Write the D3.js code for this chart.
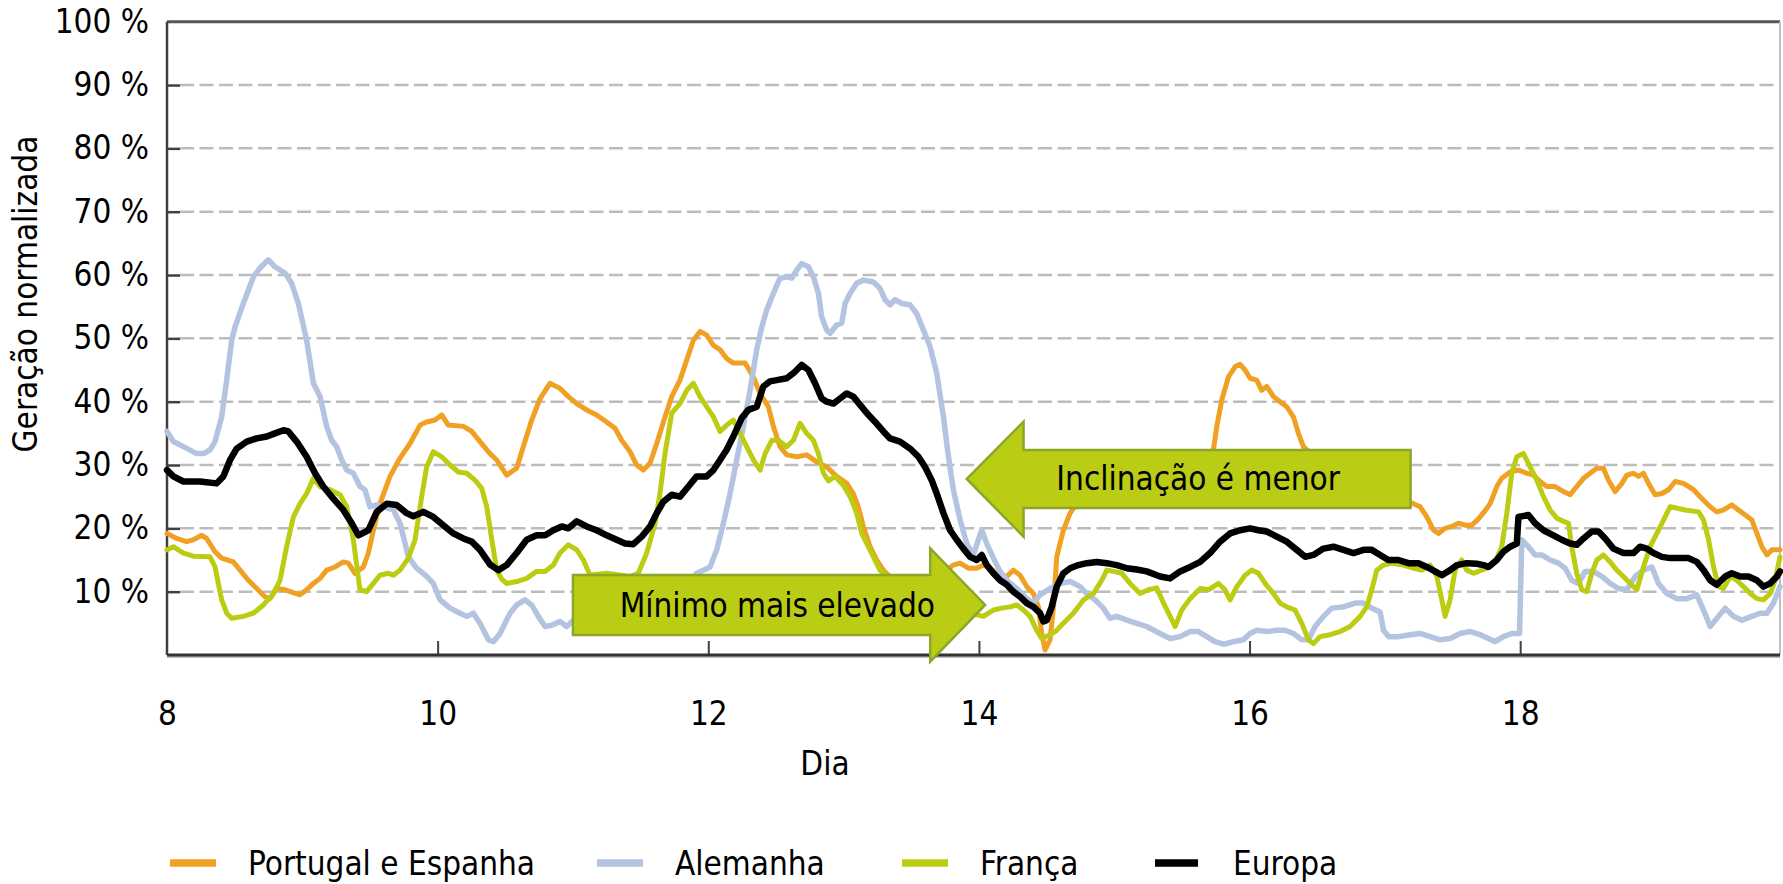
<!DOCTYPE html>
<html>
<head>
    <title>Geração normalizada</title>
    <script src="https://d3js.org/d3.v7.min.js"></script>
    <style>
        body { margin: 0; background: #fff; }
        text { font-family: "DejaVu Sans Condensed", "DejaVu Sans", sans-serif; font-stretch: condensed; }
    </style>
</head>
<body>
    <svg id="chart" width="1783" height="884"></svg>

    <script>
        // ---- data (day of month, % of normalized generation) ----
        const seriesNames = ["Portugal e Espanha", "Alemanha", "França", "Europa"];

        const portugalEspanha = [
            [8.0,19.2],[8.071,18.4],[8.145,17.9],[8.195,18.2],[8.256,18.9],[8.293,18.4],[8.355,16.3],[8.404,15.3],[8.49,14.7],[8.54,13.4],
            [8.601,11.8],[8.663,10.5],[8.724,9.2],[8.761,8.9],[8.811,10.5],[8.872,10.3],[8.983,9.5],[9.032,10.3],[9.082,11.3],[9.131,12.1],
            [9.18,13.4],[9.242,13.9],[9.303,14.7],[9.34,14.5],[9.389,12.9],[9.451,13.9],[9.488,16.1],[9.525,19.7],[9.574,23.9],[9.648,28.2],
            [9.722,31.1],[9.796,33.4],[9.87,36.3],[9.919,36.8],[9.981,37.1],[10.03,37.9],[10.079,36.3],[10.19,36.1],[10.252,35.3],[10.313,33.7],
            [10.387,31.8],[10.436,30.8],[10.51,28.4],[10.584,29.5],[10.633,32.9],[10.695,37.1],[10.757,40.5],[10.83,42.9],[10.904,42.1],[10.966,40.8],
            [11.028,39.7],[11.101,38.7],[11.175,37.9],[11.249,36.8],[11.311,35.8],[11.36,33.9],[11.422,32.1],[11.471,30.0],[11.52,29.2],[11.57,30.3],
            [11.619,33.4],[11.68,37.6],[11.73,40.8],[11.791,43.4],[11.841,46.6],[11.89,49.7],[11.939,51.1],[11.988,50.5],[12.038,48.9],[12.087,48.2],
            [12.136,46.8],[12.185,46.1],[12.272,46.1],[12.333,43.9],[12.383,41.3],[12.444,39.2],[12.481,36.1],[12.53,32.9],[12.58,31.6],[12.654,31.3],
            [12.727,31.6],[12.801,30.5],[12.875,29.7],[12.9,29.2],[12.949,28.2],[13.023,27.1],[13.072,25.5],[13.109,23.4],[13.146,20.3],[13.196,17.1],
            [13.245,15.0],[13.294,13.4],[13.331,12.6],[13.45,11.5],[13.6,11.5],[13.72,12.8],[13.811,14.2],[13.861,14.5],[13.922,13.7],[13.984,13.7],
            [14.033,14.2],[14.082,13.7],[14.144,12.6],[14.206,12.4],[14.255,13.4],[14.304,12.6],[14.353,10.8],[14.403,9.7],[14.44,7.6],[14.464,3.4],
            [14.489,0.8],[14.526,2.4],[14.551,7.6],[14.575,15.5],[14.624,19.7],[14.674,22.4],[14.723,23.9],[14.85,25.5],[15.1,26.0],[15.35,25.0],
            [15.55,27.0],[15.68,30.0],[15.733,32.4],[15.758,36.1],[15.795,40.3],[15.844,43.9],[15.893,45.5],[15.93,45.9],[15.967,45.0],[16.004,43.7],
            [16.053,43.4],[16.09,41.8],[16.127,42.4],[16.177,40.8],[16.226,40.0],[16.275,39.2],[16.324,37.6],[16.361,35.0],[16.398,32.9],[16.55,30.0],
            [16.8,27.0],[17.0,25.5],[17.211,23.9],[17.261,23.4],[17.31,21.8],[17.359,19.7],[17.396,19.2],[17.445,20.0],[17.495,20.3],[17.544,20.8],
            [17.593,20.5],[17.642,20.5],[17.692,21.5],[17.741,22.8],[17.778,23.9],[17.827,26.6],[17.864,27.9],[17.926,28.9],[17.987,29.2],[18.049,28.7],
            [18.098,28.4],[18.147,27.4],[18.197,26.6],[18.258,26.6],[18.32,25.8],[18.369,25.3],[18.418,26.6],[18.468,27.9],[18.517,28.7],[18.566,29.5],
            [18.615,29.5],[18.652,27.6],[18.702,25.8],[18.751,27.1],[18.788,28.4],[18.837,28.7],[18.874,28.2],[18.911,28.7],[18.948,27.1],[18.997,25.3],
            [19.047,25.5],[19.096,26.1],[19.145,27.4],[19.207,27.1],[19.281,26.1],[19.342,24.7],[19.404,23.4],[19.453,22.6],[19.502,22.9],[19.564,23.7],
            [19.613,22.9],[19.663,22.1],[19.712,21.3],[19.749,19.2],[19.786,17.1],[19.823,15.8],[19.86,16.6],[19.92,16.6]
        ];

        const alemanha = [
            [8.0,35.3],[8.047,33.7],[8.121,32.9],[8.219,31.8],[8.269,31.8],[8.318,32.4],[8.355,33.7],[8.404,37.6],[8.441,43.4],[8.478,49.7],
            [8.503,51.8],[8.564,55.5],[8.638,59.7],[8.687,61.1],[8.749,62.4],[8.798,61.3],[8.872,60.3],[8.921,58.7],[8.971,55.5],[9.032,49.7],
            [9.082,42.9],[9.131,40.8],[9.18,36.1],[9.217,33.9],[9.254,32.9],[9.291,30.8],[9.328,29.2],[9.377,28.7],[9.426,26.6],[9.463,26.1],
            [9.5,23.4],[9.55,23.7],[9.673,22.9],[9.722,20.8],[9.784,15.5],[9.845,13.7],[9.919,12.4],[9.968,11.3],[10.018,8.7],[10.092,7.4],
            [10.166,6.6],[10.215,6.1],[10.264,6.6],[10.313,5.0],[10.375,2.4],[10.412,2.1],[10.461,3.4],[10.486,4.5],[10.535,6.6],[10.584,7.9],
            [10.646,8.7],[10.695,7.9],[10.744,6.1],[10.794,4.5],[10.843,4.7],[10.904,5.3],[10.954,4.5],[11.003,5.5],[11.2,5.0],[11.5,6.0],
            [11.75,8.5],[11.914,12.9],[11.964,13.4],[12.013,13.9],[12.062,16.6],[12.112,20.8],[12.161,25.5],[12.21,30.8],[12.259,36.1],[12.309,41.8],
            [12.358,48.2],[12.395,51.8],[12.432,54.5],[12.481,57.1],[12.53,59.5],[12.58,59.7],[12.617,59.5],[12.654,60.8],[12.69,61.8],[12.74,61.3],
            [12.777,59.7],[12.814,57.1],[12.838,53.4],[12.875,51.3],[12.9,50.8],[12.949,52.1],[12.986,52.4],[13.011,55.5],[13.048,57.1],[13.097,58.7],
            [13.146,59.2],[13.22,58.9],[13.269,57.9],[13.306,56.1],[13.343,55.3],[13.38,56.1],[13.43,55.5],[13.491,55.3],[13.54,53.9],[13.59,51.3],
            [13.639,48.7],[13.688,44.5],[13.738,37.6],[13.775,31.3],[13.811,26.1],[13.861,21.3],[13.91,17.6],[13.959,15.8],[13.996,18.2],[14.021,19.7],
            [14.058,17.6],[14.107,15.3],[14.156,13.2],[14.206,11.8],[14.28,10.5],[14.353,8.9],[14.403,8.2],[14.452,9.5],[14.526,10.5],[14.6,11.3],
            [14.674,11.6],[14.748,10.8],[14.797,9.7],[14.859,8.7],[14.92,7.4],[14.969,5.8],[15.019,6.1],[15.093,5.5],[15.166,5.0],[15.24,4.5],
            [15.339,3.4],[15.413,2.6],[15.487,2.9],[15.561,3.7],[15.622,3.7],[15.684,2.9],[15.745,2.1],[15.807,1.7],[15.881,2.1],[15.955,2.4],
            [16.004,3.4],[16.053,3.9],[16.127,3.7],[16.201,3.9],[16.263,3.9],[16.324,3.4],[16.386,2.4],[16.435,2.4],[16.485,4.5],[16.546,6.1],
            [16.608,7.4],[16.694,7.6],[16.78,8.2],[16.842,8.2],[16.903,7.4],[16.965,6.8],[16.99,3.9],[17.027,2.9],[17.1,2.9],[17.187,3.2],
            [17.261,3.4],[17.334,2.9],[17.409,2.4],[17.482,2.6],[17.556,3.4],[17.63,3.7],[17.704,3.2],[17.765,2.6],[17.815,2.1],[17.876,2.9],
            [17.938,3.4],[17.995,3.4],[18.012,18.2],[18.061,17.1],[18.11,15.8],[18.16,15.8],[18.221,15.0],[18.283,14.5],[18.332,13.7],[18.381,11.8],
            [18.431,11.3],[18.48,13.2],[18.542,13.2],[18.603,12.4],[18.665,11.3],[18.726,10.5],[18.788,10.3],[18.85,12.4],[18.911,13.4],[18.973,13.9],
            [19.022,11.3],[19.084,9.7],[19.157,8.9],[19.231,8.9],[19.305,9.5],[19.355,7.1],[19.404,4.5],[19.465,6.1],[19.515,7.4],[19.576,6.1],
            [19.638,5.5],[19.712,6.1],[19.773,6.6],[19.823,6.6],[19.872,8.2],[19.92,10.8]
        ];

        const franca = [
            [8.0,16.6],[8.047,17.1],[8.121,16.1],[8.195,15.6],[8.318,15.5],[8.355,13.9],[8.404,8.7],[8.441,6.6],[8.478,5.8],[8.564,6.1],
            [8.638,6.6],[8.712,7.9],[8.786,9.7],[8.835,11.8],[8.884,17.1],[8.934,21.8],[8.983,23.9],[9.032,25.5],[9.082,27.9],[9.131,26.6],
            [9.205,26.1],[9.279,25.3],[9.328,23.4],[9.377,18.2],[9.426,10.3],[9.476,10.0],[9.525,11.3],[9.574,12.6],[9.636,12.9],[9.673,12.6],
            [9.722,13.4],[9.784,15.3],[9.833,18.2],[9.882,25.0],[9.919,29.7],[9.968,32.1],[10.03,31.3],[10.092,30.0],[10.153,28.9],[10.215,28.7],
            [10.276,27.6],[10.326,26.3],[10.363,23.4],[10.4,18.2],[10.437,13.4],[10.473,12.0],[10.51,11.3],[10.584,11.6],[10.658,12.1],[10.732,13.2],
            [10.794,13.2],[10.855,14.2],[10.904,16.1],[10.966,17.4],[11.028,16.6],[11.077,15.0],[11.126,12.6],[11.249,12.9],[11.422,12.4],[11.483,12.9],
            [11.545,16.1],[11.607,20.8],[11.643,25.5],[11.68,31.8],[11.73,38.2],[11.791,39.7],[11.841,41.8],[11.89,42.9],[11.939,40.8],[11.988,39.2],
            [12.038,37.6],[12.087,35.3],[12.136,36.3],[12.185,37.1],[12.235,35.0],[12.284,32.9],[12.333,30.8],[12.383,29.2],[12.42,31.8],[12.469,33.9],
            [12.518,33.9],[12.58,32.9],[12.629,33.9],[12.678,36.6],[12.727,35.0],[12.777,33.9],[12.814,31.8],[12.851,28.7],[12.888,27.5],[12.937,28.2],
            [12.998,26.8],[13.048,25.0],[13.097,22.4],[13.134,19.2],[13.183,17.1],[13.22,15.5],[13.269,13.4],[13.306,12.6],[13.5,10.5],[13.7,8.0],
            [13.85,7.0],[14.033,6.1],[14.107,7.1],[14.169,7.4],[14.23,7.6],[14.28,7.9],[14.329,7.1],[14.378,6.1],[14.427,3.9],[14.464,2.6],
            [14.526,3.2],[14.575,3.9],[14.624,5.0],[14.698,6.6],[14.772,8.7],[14.846,9.7],[14.908,11.8],[14.945,13.4],[14.994,13.2],[15.056,12.9],
            [15.117,11.3],[15.191,9.7],[15.253,10.3],[15.314,10.6],[15.364,8.2],[15.413,6.1],[15.45,4.5],[15.499,7.1],[15.561,8.9],[15.635,10.5],
            [15.696,10.3],[15.77,11.3],[15.819,10.3],[15.856,8.7],[15.906,10.8],[15.967,12.6],[16.016,13.4],[16.066,12.9],[16.115,11.3],[16.177,9.7],
            [16.226,8.2],[16.275,7.6],[16.337,7.1],[16.386,5.0],[16.435,2.4],[16.472,1.8],[16.521,2.9],[16.595,3.2],[16.669,3.7],[16.743,4.5],
            [16.817,6.1],[16.866,7.6],[16.903,10.3],[16.94,13.4],[16.99,14.2],[17.051,14.5],[17.137,14.2],[17.211,13.7],[17.273,13.4],[17.334,14.2],
            [17.384,12.4],[17.421,8.7],[17.445,6.1],[17.482,8.7],[17.519,13.4],[17.569,15.0],[17.605,13.4],[17.655,12.9],[17.729,13.5],[17.778,14.0],
            [17.815,14.7],[17.864,17.1],[17.901,22.4],[17.938,28.7],[17.975,31.3],[18.024,31.8],[18.073,29.7],[18.123,27.6],[18.172,25.0],[18.221,22.9],
            [18.271,21.6],[18.32,21.1],[18.357,20.8],[18.381,17.1],[18.418,12.9],[18.455,10.3],[18.492,10.0],[18.529,12.9],[18.566,15.0],[18.615,15.8],
            [18.665,14.7],[18.714,13.4],[18.763,12.4],[18.813,11.3],[18.862,10.3],[18.911,13.9],[18.96,17.1],[19.01,19.2],[19.059,21.3],[19.108,23.4],
            [19.157,23.2],[19.219,22.9],[19.318,22.6],[19.355,21.3],[19.392,18.2],[19.429,13.9],[19.465,10.8],[19.502,10.5],[19.552,12.4],[19.601,11.8],
            [19.65,10.8],[19.7,9.7],[19.749,8.9],[19.798,8.7],[19.847,9.7],[19.884,11.8],[19.92,15.5]
        ];

        const europa = [
            [8.0,29.2],[8.047,28.2],[8.121,27.4],[8.244,27.4],[8.367,27.1],[8.416,28.2],[8.466,30.8],[8.515,32.6],[8.589,33.7],[8.663,34.2],
            [8.737,34.5],[8.798,35.0],[8.86,35.5],[8.897,35.3],[8.958,33.7],[9.032,31.3],[9.094,28.7],[9.155,26.6],[9.229,24.7],[9.303,22.9],
            [9.365,20.8],[9.414,18.9],[9.488,19.7],[9.55,22.6],[9.624,23.9],[9.697,23.7],[9.771,22.4],[9.821,21.9],[9.895,22.6],[9.968,21.8],
            [10.042,20.5],[10.116,19.2],[10.19,18.4],[10.252,17.9],[10.313,16.6],[10.387,14.3],[10.449,13.4],[10.51,14.2],[10.584,16.1],[10.658,18.2],
            [10.732,18.9],[10.794,18.9],[10.855,19.7],[10.917,20.3],[10.966,20.0],[11.028,21.1],[11.101,20.3],[11.175,19.7],[11.249,18.9],[11.323,18.2],
            [11.385,17.6],[11.446,17.5],[11.508,18.7],[11.57,20.3],[11.619,22.4],[11.668,24.2],[11.73,25.3],[11.791,25.0],[11.853,26.6],[11.914,28.2],
            [11.988,28.2],[12.038,29.2],[12.087,30.8],[12.136,32.4],[12.185,34.5],[12.247,37.4],[12.296,38.7],[12.358,39.2],[12.407,42.4],[12.456,43.2],
            [12.506,43.4],[12.58,43.7],[12.629,44.5],[12.69,45.8],[12.74,45.0],[12.789,42.9],[12.838,40.5],[12.875,40.0],[12.925,39.7],[12.974,40.5],
            [13.023,41.3],[13.072,40.8],[13.122,39.5],[13.171,38.2],[13.233,36.8],[13.294,35.3],[13.343,34.2],[13.417,33.7],[13.491,32.6],[13.553,31.3],
            [13.602,29.7],[13.651,27.6],[13.688,25.5],[13.738,22.4],[13.787,19.7],[13.836,18.2],[13.885,16.8],[13.935,15.5],[13.984,15.0],[14.021,15.8],
            [14.058,14.2],[14.107,12.9],[14.156,11.8],[14.206,11.1],[14.255,10.0],[14.304,9.2],[14.353,8.2],[14.403,7.6],[14.452,6.6],[14.477,5.3],
            [14.501,5.5],[14.538,7.6],[14.575,10.8],[14.624,12.9],[14.674,13.7],[14.735,14.2],[14.797,14.5],[14.871,14.7],[14.945,14.5],[15.019,14.2],
            [15.093,13.7],[15.166,13.5],[15.24,13.2],[15.339,12.4],[15.413,12.1],[15.487,13.2],[15.561,13.9],[15.635,14.7],[15.708,16.1],[15.782,17.9],
            [15.856,19.2],[15.93,19.7],[16.004,20.0],[16.066,19.7],[16.127,19.5],[16.201,18.7],[16.275,17.9],[16.349,16.6],[16.411,15.5],[16.472,15.8],
            [16.546,16.8],[16.62,17.1],[16.694,16.6],[16.768,16.1],[16.842,16.6],[16.903,16.6],[16.965,15.8],[17.026,15.0],[17.1,15.0],[17.174,14.5],
            [17.248,14.5],[17.31,13.9],[17.371,13.2],[17.421,12.6],[17.482,13.4],[17.532,14.2],[17.605,14.5],[17.679,14.4],[17.729,14.2],[17.765,13.9],
            [17.827,15.0],[17.876,16.3],[17.926,17.1],[17.975,17.6],[17.987,21.8],[18.061,22.1],[18.11,20.8],[18.172,19.7],[18.246,18.9],[18.307,18.2],
            [18.369,17.6],[18.418,17.4],[18.468,18.4],[18.529,19.5],[18.579,19.5],[18.628,18.4],[18.689,16.8],[18.763,16.1],[18.837,16.1],[18.886,17.1],
            [18.936,16.8],[18.985,16.1],[19.047,15.5],[19.108,15.3],[19.244,15.3],[19.305,14.7],[19.355,13.4],[19.404,11.8],[19.453,11.1],[19.515,12.4],
            [19.564,12.9],[19.626,12.4],[19.687,12.4],[19.749,11.8],[19.798,10.8],[19.847,11.3],[19.897,12.4],[19.92,13.2]
        ];

        const xTicks = [8, 10, 12, 14, 16, 18];
        const yTicks = [10, 20, 30, 40, 50, 60, 70, 80, 90, 100];

        // annotation arrows, in chart units (day, %)
        const arrowLabels = ["Mínimo mais elevado", "Inclinação é menor"];

        // ---- styles / layout ----
        const colors = ["#F0A023", "#B3C3E0", "#BBCC12", "#000000"];
        const widths = [5, 5.5, 5, 6.5];
        const svg = d3.select("svg#chart");
        const margin = { top: 21.7, right: 3, bottom: 229, left: 167 };
        const width = +svg.attr("width") - margin.left - margin.right;
        const height = +svg.attr("height") - margin.top - margin.bottom;
        const fontSize = 33;

        const x = d3.scaleLinear().domain([8, 19.92]).range([0, width]);
        const y = d3.scaleLinear().domain([0, 100]).range([height, 0]);
        const g = svg.append("g").attr("transform", "translate(" + margin.left + "," + margin.top + ")");

        // dashed grid lines (start after the small inner tick)
        g.selectAll(".grid")
            .data(yTicks.filter(d => d < 100))
            .enter().append("line")
            .attr("class", "grid")
            .attr("x1", 13).attr("x2", width)
            .attr("y1", d => y(d)).attr("y2", d => y(d))
            .attr("stroke", "#BDBDBD")
            .attr("stroke-width", 2.5)
            .attr("stroke-dasharray", "14,5.5");

        // frame: top dark, right light
        g.append("line").attr("x1", 0).attr("x2", width).attr("y1", 0).attr("y2", 0)
            .attr("stroke", "#555").attr("stroke-width", 3);
        g.append("line").attr("x1", width).attr("x2", width).attr("y1", 0).attr("y2", height)
            .attr("stroke", "#BFBFBF").attr("stroke-width", 2);

        // y axis: labels outside, short ticks inside
        const yAxis = g.append("g")
            .call(d3.axisLeft(y).tickValues(yTicks).tickSize(0).tickPadding(18).tickFormat(d => d + " %"));
        yAxis.select(".domain").remove();
        yAxis.selectAll("text").attr("font-size", fontSize).attr("font-family", null).attr("fill", "#000");

        const yInner = g.append("g")
            .call(d3.axisRight(y).tickValues(yTicks.filter(d => d < 100)).tickSize(13).tickFormat(""));
        yInner.select(".domain").remove();
        yInner.selectAll("line").attr("stroke", "#404040").attr("stroke-width", 2.5);

        g.append("line").attr("x1", 0).attr("x2", 0).attr("y1", 0).attr("y2", height)
            .attr("stroke", "#404040").attr("stroke-width", 2.5);

        // x axis: labels far below, ticks inside
        const xAxis = g.append("g")
            .attr("transform", "translate(0," + height + ")")
            .call(d3.axisBottom(x).tickValues(xTicks).tickSize(0).tickPadding(47));
        xAxis.select(".domain").remove();
        xAxis.selectAll("text").attr("font-size", fontSize).attr("font-family", null).attr("fill", "#000");

        const xInner = g.append("g")
            .attr("transform", "translate(0," + height + ")")
            .call(d3.axisTop(x).tickValues(xTicks.filter(d => d > 8)).tickSize(14).tickFormat(""));
        xInner.select(".domain").remove();
        xInner.selectAll("line").attr("stroke", "#404040").attr("stroke-width", 2);

        // series lines
        const allSeries = [portugalEspanha, alemanha, franca, europa];
        const line = d3.line().x(d => x(d[0])).y(d => y(d[1]));
        g.selectAll(".series")
            .data(allSeries)
            .enter().append("path")
            .attr("class", "series")
            .attr("d", line)
            .attr("fill", "none")
            .attr("stroke", (d, i) => colors[i])
            .attr("stroke-width", (d, i) => widths[i])
            .attr("stroke-linejoin", "round")
            .attr("stroke-linecap", "round");

        // bottom axis line, drawn over the series
        g.append("line").attr("x1", 0).attr("x2", width).attr("y1", height + 2).attr("y2", height + 2)
            .attr("stroke", "#BBBBBB").attr("stroke-width", 2);
        g.append("line").attr("x1", 0).attr("x2", width).attr("y1", height).attr("y2", height)
            .attr("stroke", "#333").attr("stroke-width", 3);

        // block arrows
        function blockArrow(x0, x1, xTip, yBodyTop, yBodyBot, yHeadTop, yHeadBot, yMid) {
            return [[x0, yBodyTop], [x1, yBodyTop], [x1, yHeadTop], [xTip, yMid],
                    [x1, yHeadBot], [x1, yBodyBot], [x0, yBodyBot]];
        }
        const arrows = [
            { pts: blockArrow(x(11.0), x(13.64), x(14.046), y(12.63), y(3.16), y(16.85), y(-1.06), y(7.9)),
              tx: x(12.51), ty: y(7.9) },
            { pts: blockArrow(x(17.19), x(14.33), x(13.91), y(32.37), y(23.2), y(36.84), y(18.68), y(27.8)),
              tx: x(15.62), ty: y(27.8) }
        ];
        arrows.forEach((a, i) => {
            g.append("path")
                .attr("d", d3.line()(a.pts) + "Z")
                .attr("fill", "#BACC13")
                .attr("stroke", "#8DA62A")
                .attr("stroke-width", 2.5)
                .attr("stroke-linejoin", "miter");
            g.append("text")
                .attr("x", a.tx).attr("y", a.ty)
                .attr("dy", "0.35em")
                .attr("text-anchor", "middle")
                .attr("font-size", fontSize)
                .attr("fill", "#000")
                .text(arrowLabels[i]);
        });

        // axis titles
        svg.append("text")
            .attr("transform", "translate(25,294) rotate(-90)")
            .attr("dy", "0.35em")
            .attr("text-anchor", "middle")
            .attr("font-size", fontSize)
            .text("Geração normalizada");

        svg.append("text")
            .attr("x", 825).attr("y", 763)
            .attr("dy", "0.35em")
            .attr("text-anchor", "middle")
            .attr("font-size", fontSize)
            .text("Dia");

        // legend
        const legendX = [170, 597, 902, 1155];
        const legend = svg.selectAll(".legend")
            .data(seriesNames)
            .enter().append("g")
            .attr("class", "legend")
            .attr("transform", (d, i) => "translate(" + legendX[i] + ",863)");
        legend.append("line")
            .attr("x1", 0).attr("x2", (d, i) => i === 3 ? 43 : 46)
            .attr("y1", 0).attr("y2", 0)
            .attr("stroke", (d, i) => colors[i])
            .attr("stroke-width", 7.5);
        legend.append("text")
            .attr("x", 78)
            .attr("dy", "0.35em")
            .attr("font-size", fontSize)
            .text(d => d);
    </script>
</body>
</html>
